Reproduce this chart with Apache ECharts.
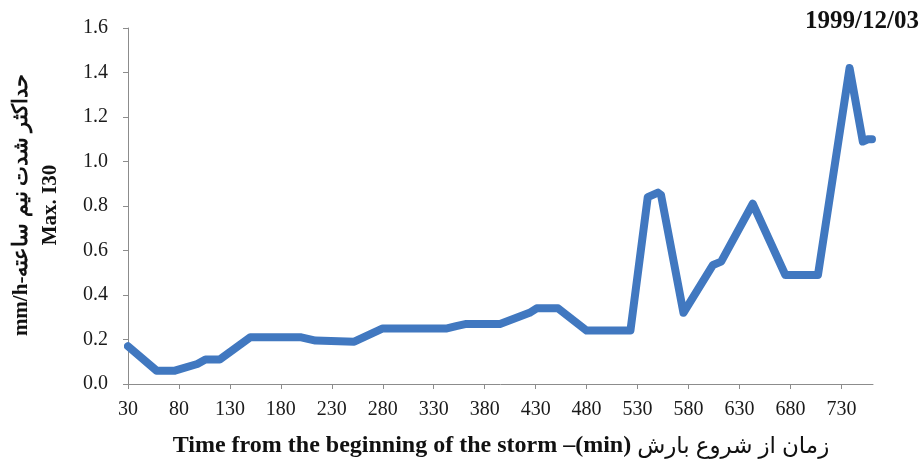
<!DOCTYPE html>
<html>
<head>
<meta charset="utf-8">
<script src="https://cdn.jsdelivr.net/npm/echarts@6/dist/echarts.min.js"></script>
<style>
  html, body { margin: 0; padding: 0; background: #fff; }
  #chart { width: 924px; height: 461px; }
</style>
</head>
<body>
<div id="chart"></div>
<script>
// minutes from storm start and max I30 (mm/h) at the bends
const minutes = [30, 58, 76, 98, 106, 120, 150, 200, 214, 252, 280, 343, 352, 362, 395, 424, 431, 452, 480, 523, 540, 550, 553, 575, 604, 612, 643, 675, 707, 738, 751, 756, 760];
const i30 = [0.17, 0.06, 0.06, 0.09, 0.11, 0.11, 0.21, 0.21, 0.195, 0.19, 0.25, 0.25, 0.26, 0.27, 0.27, 0.32, 0.34, 0.34, 0.24, 0.24, 0.84, 0.86, 0.85, 0.32, 0.535, 0.55, 0.81, 0.49, 0.49, 1.42, 1.09, 1.10, 1.10];
const xTicks = [30, 80, 130, 180, 230, 280, 330, 380, 430, 480, 530, 580, 630, 680, 730];

const SERIF = '"Liberation Serif", "Times New Roman", serif';
const AXIS_GRAY = '#8c8c8c';
const BLUE = '#4178c0';

const chart = echarts.init(document.getElementById('chart'), null, { renderer: 'canvas' });

chart.setOption({
  backgroundColor: '#ffffff',
  animation: false,
  grid: { left: 128, right: 51, top: 28, bottom: 77 },
  xAxis: {
    type: 'value',
    min: 30,
    max: 761,
    axisLine: { show: true, lineStyle: { color: AXIS_GRAY, width: 1 } },
    axisTick: { show: true, length: 5, customValues: xTicks, lineStyle: { color: AXIS_GRAY } },
    axisLabel: {
      customValues: xTicks,
      color: '#1a1a1a',
      fontFamily: SERIF,
      fontSize: 20,
      margin: 16
    },
    splitLine: { show: false }
  },
  yAxis: {
    type: 'value',
    min: 0,
    max: 1.6,
    interval: 0.2,
    axisLine: { show: true, lineStyle: { color: AXIS_GRAY, width: 1 } },
    axisTick: { show: true, length: 5, lineStyle: { color: AXIS_GRAY } },
    axisLabel: {
      color: '#1a1a1a',
      fontFamily: SERIF,
      fontSize: 20,
      margin: 20,
      formatter: v => v.toFixed(1)
    },
    splitLine: { show: false }
  },
  graphic: [
    {
      type: 'text',
      right: 5,
      top: 9,
      style: {
        text: '1999/12/03',
        font: 'bold 25px ' + SERIF,
        fill: '#111'
      }
    },
    {
      type: 'text',
      x: 36,
      y: 205,
      rotation: Math.PI / 2,
      style: {
        text: 'mm/h-حداکثر شدت نیم ساعته\nMax. I30',
        font: 'bold 21px ' + SERIF,
        fill: '#111',
        align: 'center',
        verticalAlign: 'middle',
        lineHeight: 29
      }
    },
    {
      type: 'text',
      x: 501,
      y: 446,
      style: {
        text: '{en|Time from the beginning of the storm –(min) }{fa|زمان از شروع بارش}',
        align: 'center',
        verticalAlign: 'middle',
        rich: {
          en: { font: 'bold 24px ' + SERIF, fill: '#111' },
          fa: { font: '23px "Noto Sans", "DejaVu Sans", sans-serif', fill: '#111' }
        }
      }
    }
  ],
  series: [
    {
      type: 'line',
      data: minutes.map((m, i) => [m, i30[i]]),
      symbol: 'none',
      lineStyle: { color: BLUE, width: 8, join: 'round', cap: 'round' },
      itemStyle: { color: BLUE }
    }
  ]
});
</script>
</body>
</html>
